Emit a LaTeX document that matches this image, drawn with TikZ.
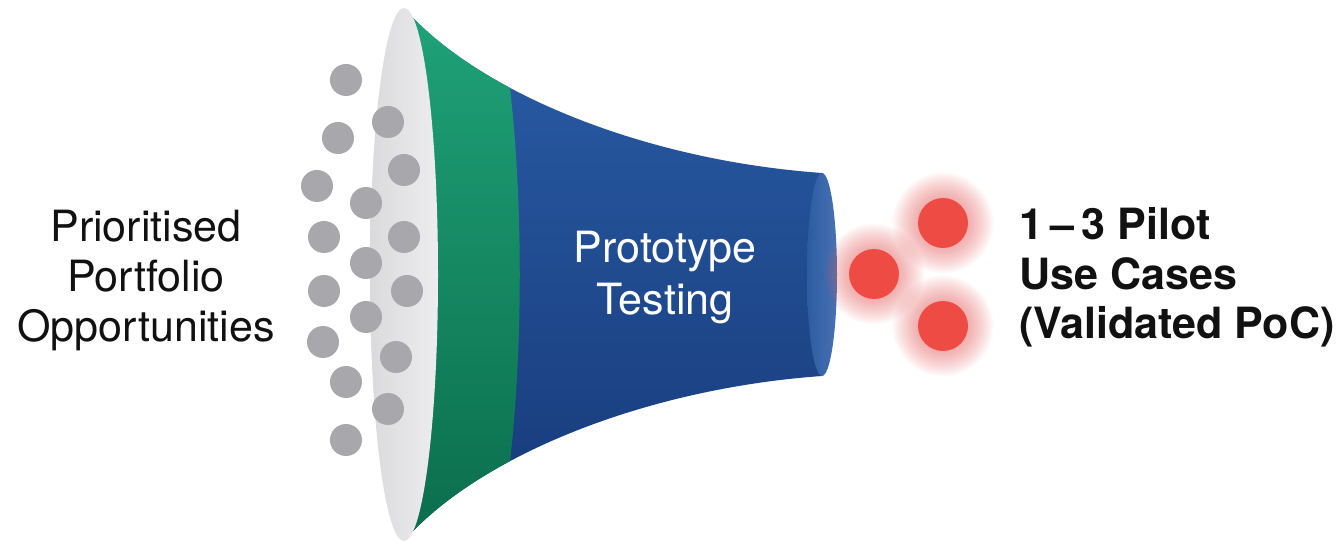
\documentclass[tikz,border=0pt]{standalone}
\usepackage{fontspec}
\setmainfont{TeX Gyre Heros}
\definecolor{grnT}{HTML}{20A479}
\definecolor{grnB}{HTML}{0A6B4A}
\definecolor{bluT}{HTML}{2A5DA7}
\definecolor{bluM}{HTML}{1E4A91}
\definecolor{bluB}{HTML}{163978}
\definecolor{faceL}{HTML}{2D5CA2}
\definecolor{faceR}{HTML}{4772B3}
\definecolor{mouthL}{HTML}{DADADC}
\definecolor{mouthR}{HTML}{EDEDEF}
\definecolor{dotgray}{HTML}{A8A8AC}
\definecolor{dotred}{HTML}{EE4B45}
\definecolor{glowred}{HTML}{F25555}
\definecolor{txt}{HTML}{111111}
\begin{document}
\begin{tikzpicture}[x=0.02cm,y=-0.02cm,
  graydot/.style={circle,fill=dotgray,minimum size=0.64cm,inner sep=0pt},
  reddot/.style={circle,fill=dotred,minimum size=1cm,inner sep=0pt},
  lbl/.style={font=\fontsize{24.5}{28}\selectfont,inner sep=0pt,anchor=base,text=txt},
  wlbl/.style={font=\fontsize{24.5}{28}\selectfont,inner sep=0pt,anchor=base,text=white},
  rlbl/.style={font=\fontsize{24.5}{28}\selectfont\bfseries,inner sep=0pt,anchor=base west,text=txt}]
\useasboundingbox (0,0) rectangle (1340,543);
\fill[white] (0,0) rectangle (1340,543);

% funnel body (blue)
\shade[top color=bluT,middle color=bluM,bottom color=bluB]
  (404,8) .. controls (475,90) and (640,160) .. (822,173) -- (822,376)
  .. controls (640,389) and (475,459) .. (404,541) -- cycle;

% green band
\begin{scope}
\clip (404,8) .. controls (475,90) and (640,160) .. (822,173) -- (822,376)
  .. controls (640,389) and (475,459) .. (404,541) -- cycle;
\shade[top color=grnT,bottom color=grnB]
  (340,-10) -- (510,-10) -- (510,88) .. controls (523,200) and (523,349) .. (510,461)
  -- (510,560) -- (340,560) -- cycle;
\end{scope}

% mouth
\shade[left color=mouthL,right color=mouthR] (404,274.5) ellipse [x radius=34,y radius=266.5];

% end face
\shade[left color=faceL,right color=faceR] (822,274.5) ellipse [x radius=15,y radius=101.5];

% grey dots
\node[graydot] (g1)  at (346,80)  {};
\node[graydot] (g2)  at (388,122) {};
\node[graydot] (g3)  at (338,138) {};
\node[graydot] (g4)  at (404,170) {};
\node[graydot] (g5)  at (317,186) {};
\node[graydot] (g6)  at (366,203) {};
\node[graydot] (g7)  at (324,237) {};
\node[graydot] (g8)  at (404,237) {};
\node[graydot] (g9)  at (366,263) {};
\node[graydot] (g10) at (324,291) {};
\node[graydot] (g11) at (407,291) {};
\node[graydot] (g12) at (366,317) {};
\node[graydot] (g13) at (323,342) {};
\node[graydot] (g14) at (396,357) {};
\node[graydot] (g15) at (346,382) {};
\node[graydot] (g16) at (388,409) {};
\node[graydot] (g17) at (346,440) {};

% red dots with glow
\coordinate (c1) at (943,223);
\coordinate (c2) at (874,274);
\coordinate (c3) at (943,326);
\foreach \c in {c1,c2,c3}{
  \foreach \k in {1,...,14}{
    \fill[glowred,opacity=0.04] (\c) circle [radius=25+\k*1.8];
  }
}
\node[reddot] (r1) at (c1) {};
\node[reddot] (r2) at (c2) {};
\node[reddot] (r3) at (c3) {};

% texts
\node[lbl] (l1) at (146,242) {Prioritised};
\node[lbl] (l2) at (146,292) {Portfolio};
\node[lbl] (l3) at (146,342) {Opportunities};

\node[wlbl] (m1) at (665,263) {Prototype};
\node[wlbl] (m2) at (665,315) {Testing};

\node[rlbl] (t1) at (1019,240) {1\,–\,3 Pilot};
\node[rlbl] (t2) at (1019,290) {Use Cases};
\node[rlbl] (t3) at (1019,339) {(Validated PoC)};
\end{tikzpicture}
\end{document}
